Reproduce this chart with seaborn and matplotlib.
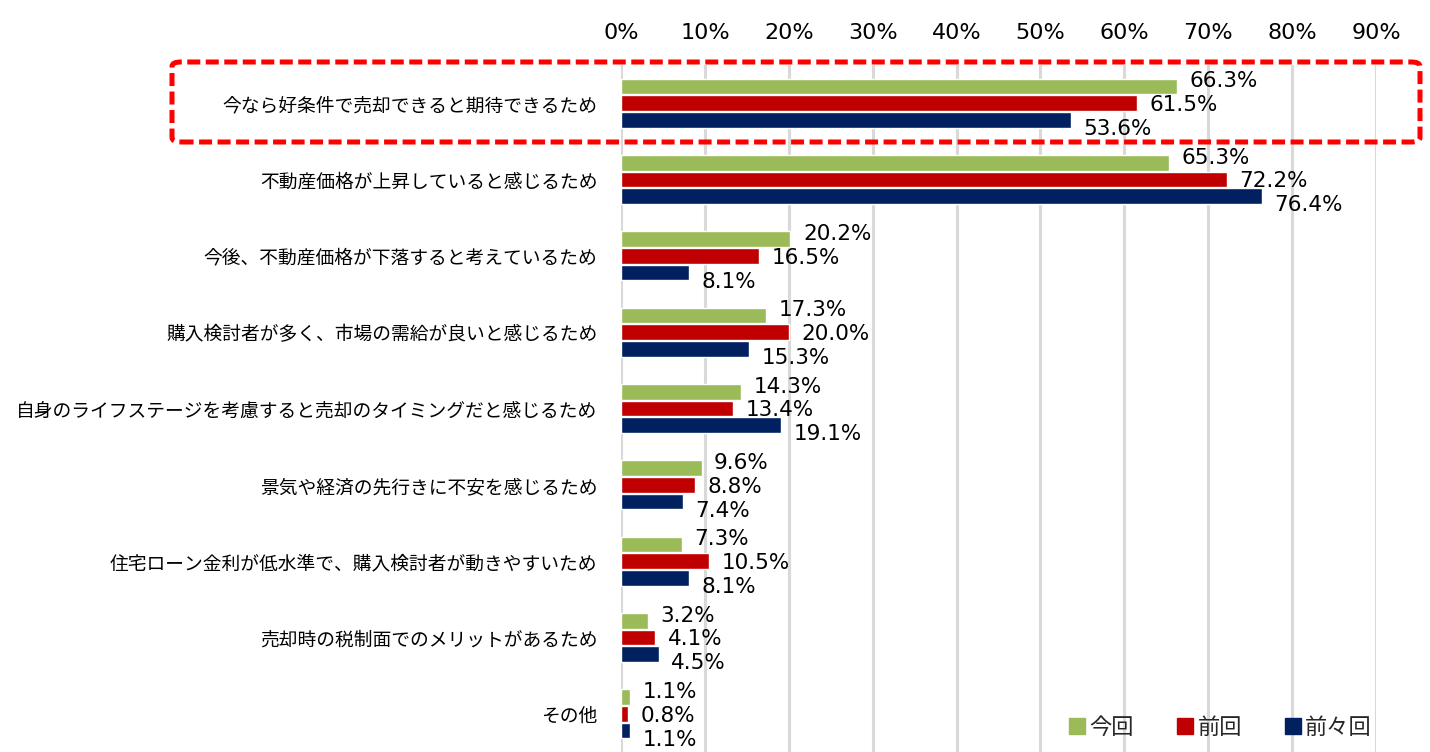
import matplotlib
matplotlib.use("Agg")
import matplotlib.pyplot as plt
from matplotlib.patches import FancyBboxPatch
from matplotlib.lines import Line2D
import seaborn as sns
import pandas as pd

categories = [
    "今なら好条件で売却できると期待できるため",
    "不動産価格が上昇していると感じるため",
    "今後、不動産価格が下落すると考えているため",
    "購入検討者が多く、市場の需給が良いと感じるため",
    "自身のライフステージを考慮すると売却のタイミングだと感じるため",
    "景気や経済の先行きに不安を感じるため",
    "住宅ローン金利が低水準で、購入検討者が動きやすいため",
    "売却時の税制面でのメリットがあるため",
    "その他",
]
series_names = ["今回", "前回", "前々回"]
current = [66.3, 65.3, 20.2, 17.3, 14.3, 9.6, 7.3, 3.2, 1.1]
previous = [61.5, 72.2, 16.5, 20.0, 13.4, 8.8, 10.5, 4.1, 0.8]
before_previous = [53.6, 76.4, 8.1, 15.3, 19.1, 7.4, 8.1, 4.5, 1.1]
x_ticks = [0, 10, 20, 30, 40, 50, 60, 70, 80, 90]
colors = ["#9BBB59", "#C00000", "#002060"]

sns.set_theme(style="white")
plt.rcParams["font.family"] = ["Noto Sans CJK JP", "DejaVu Sans"]

rows = []
for name, vals in zip(series_names, [current, previous, before_previous]):
    for c, v in zip(categories, vals):
        rows.append({"category": c, "series": name, "value": v / 100.0})
df = pd.DataFrame(rows)

fig = plt.figure(figsize=(14.30, 7.52), dpi=100)
ax = fig.add_axes([621 / 1430, 0.0, (1376 - 621) / 1430, 1 - 65 / 752])

sns.barplot(data=df, y="category", x="value", hue="series", orient="h",
            order=categories, hue_order=series_names, palette=colors,
            width=0.66, ax=ax, legend=False, saturation=1, errorbar=None)

# slight white gap between bars of a group
for p in ax.patches:
    h = p.get_height()
    y = p.get_y()
    nh = h * 0.93
    p.set_y(y + (h - nh) / 2)
    p.set_height(nh)

num_font = ["DejaVu Sans"]

ax.set_xlim(0, 0.9)
ax.set_ylim(len(categories) - 0.5, -0.5)
ax.xaxis.tick_top()
ax.set_xticks([t / 100 for t in x_ticks])
ax.set_xticklabels([f"{t}%" for t in x_ticks], fontsize=16, family=num_font)
ax.tick_params(axis="x", length=0, pad=16, colors="#000000")
ax.tick_params(axis="y", length=0, pad=17, labelsize=13.5, colors="#000000")
ax.set_xlabel("")
ax.set_ylabel("")
for s in ax.spines.values():
    s.set_visible(False)
ax.grid(axis="x", color="#D9D9D9", linewidth=2.2)
ax.set_axisbelow(True)

# data labels
dy = [3.6, -1.4, -6.5]
n = len(categories)
for si, vals in enumerate([current, previous, before_previous]):
    for ci, v in enumerate(vals):
        p = ax.patches[si * n + ci]
        yc = p.get_y() + p.get_height() / 2
        ax.annotate(f"{v:.1f}%", xy=(v / 100, yc), xytext=(9, dy[si]),
                    textcoords="offset points", va="center", ha="left",
                    fontsize=15.5, color="#000000", family=num_font)

# legend
handles = [Line2D([0], [0], marker="s", linestyle="none", markersize=11,
                  markerfacecolor=c, markeredgecolor=c) for c in colors]
fig.legend(handles, series_names, loc="center right",
           bbox_to_anchor=(1392 / 1430, 1 - 727 / 752), ncol=3, frameon=False,
           fontsize=16, handletextpad=0.15, columnspacing=1.9, handlelength=0.8)

# red dashed highlight rectangle
rect = FancyBboxPatch((172 / 1430, 1 - 142 / 752), (1420 - 172) / 1430, 80 / 752,
                      boxstyle="round,pad=0,rounding_size=0.006",
                      transform=fig.transFigure, fill=False,
                      edgecolor="#FF0000", linewidth=3.6,
                      linestyle=(0, (2.6, 1.1)), clip_on=False)
fig.patches.append(rect)

fig.savefig("out.png", dpi=100)
